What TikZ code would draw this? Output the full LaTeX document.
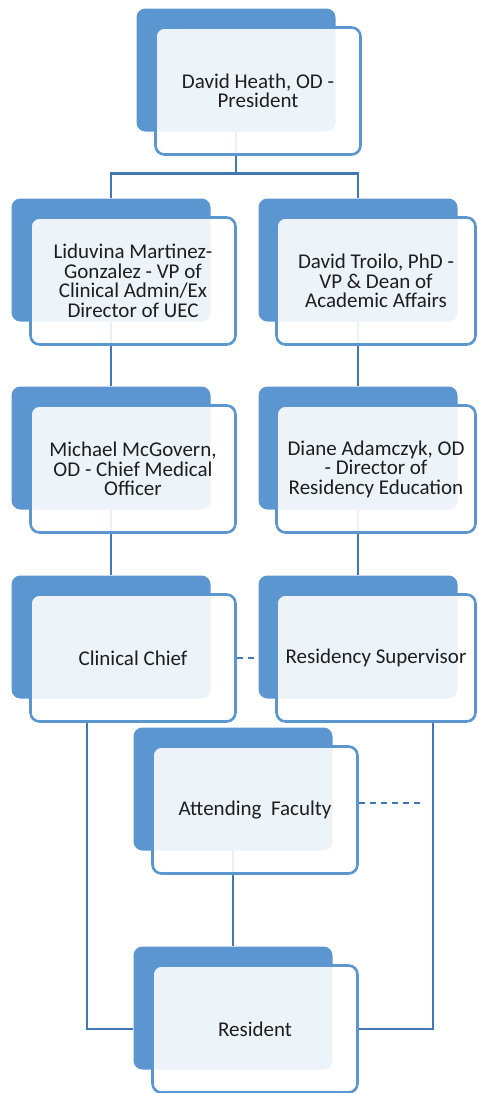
\documentclass[tikz,border=0pt]{standalone}
\usepackage{fontspec}
\setmainfont{Carlito}
\usetikzlibrary{backgrounds}
\definecolor{boxblue}{RGB}{91,150,208}
\definecolor{linkblue}{RGB}{66,120,182}
\definecolor{txtgray}{RGB}{30,30,30}

\begin{document}
\begin{tikzpicture}[x=1pt,y=-1pt,
    back/.style={rectangle,rounded corners=9pt,fill=boxblue,minimum width=199pt,
                 minimum height=123pt,inner sep=0pt},
    front/.style={rectangle,rounded corners=9pt,draw=boxblue,line width=2.6pt,
                  fill=white,fill opacity=0.89,text opacity=1,text=txtgray,
                  minimum width=205pt,minimum height=127pt,align=center,inner sep=0pt,
                  font=\fontsize{21}{19.5}\selectfont},
    narrow/.style={minimum width=199pt},
    link/.style={draw=linkblue,line width=2.8pt},
    thin link/.style={draw=linkblue,line width=1.8pt},
    dash link/.style={thin link,dash pattern=on 6pt off 5pt}]

  \useasboundingbox (0,0) rectangle (478,1093);

  \node[back] (topb)   at (236,70)  {};
  \node[back] (vp1b)   at (111,260) {};
  \node[back] (vp2b)   at (358,260) {};
  \node[back] (cmob)   at (111,448) {};
  \node[back] (dreb)   at (358,448) {};
  \node[back] (chiefb) at (111,637) {};
  \node[back] (supb)   at (358,637) {};
  \node[back] (attb)   at (233,789) {};
  \node[back] (resb)   at (233,1008) {};

  \node[front] (top)          at ([shift={(22,21)}]topb)   {David Heath, OD -\\President};
  \node[front] (vp1)          at ([shift={(22,21)}]vp1b)   {Liduvina Martinez-\\Gonzalez - VP  of\\Clinical Admin/Ex\\Director of UEC};
  \node[front,narrow] (vp2)   at ([shift={(18,21)}]vp2b)   {David Troilo, PhD -\\VP \& Dean of\\Academic Affairs};
  \node[front] (cmo)          at ([shift={(22,21)}]cmob)   {Michael McGovern,\\OD - Chief Medical\\Officer};
  \node[front,narrow] (dre)   at ([shift={(18,21)}]dreb)   {Diane Adamczyk, OD\\- Director of\\Residency Education};
  \node[front] (chief)        at ([shift={(22,21)}]chiefb) {Clinical Chief};
  \node[front,narrow] (sup)   at ([shift={(18,21)}]supb)   {Residency Supervisor};
  \node[front] (att)          at ([shift={(22,21)}]attb)   {Attending\ \ Faculty};
  \node[front] (res)          at ([shift={(22,21)}]resb)   {Resident};

  \begin{scope}[on background layer]
    \draw[link] (topb.south) -- ++(0,42) coordinate (split);
    \draw[link] (vp1b.north) |- (split) -| (vp2b.north);
    \draw[link] (vp1b.south) -- (cmob.north);
    \draw[link] (vp2b.south) -- (dreb.north);
    \draw[link] (cmob.south) -- (chiefb.north);
    \draw[link] (dreb.south) -- (supb.north);
    \draw[thin link] ([xshift=-46pt]chief.south) |- (resb.west |- res.west);
    \draw[thin link] ([xshift=57pt]sup.south) coordinate (drop) |- (res.east);
    \draw[dash link] (chief.east) -- (supb.west |- chief.east);
    \draw[dash link] ([yshift=7pt]att.east) -- ([xshift=-10pt,yshift=7pt]drop |- att.east) coordinate (tail);
    \draw[thin link] (attb.south) -- (resb.north);
  \end{scope}
\end{tikzpicture}
\end{document}
